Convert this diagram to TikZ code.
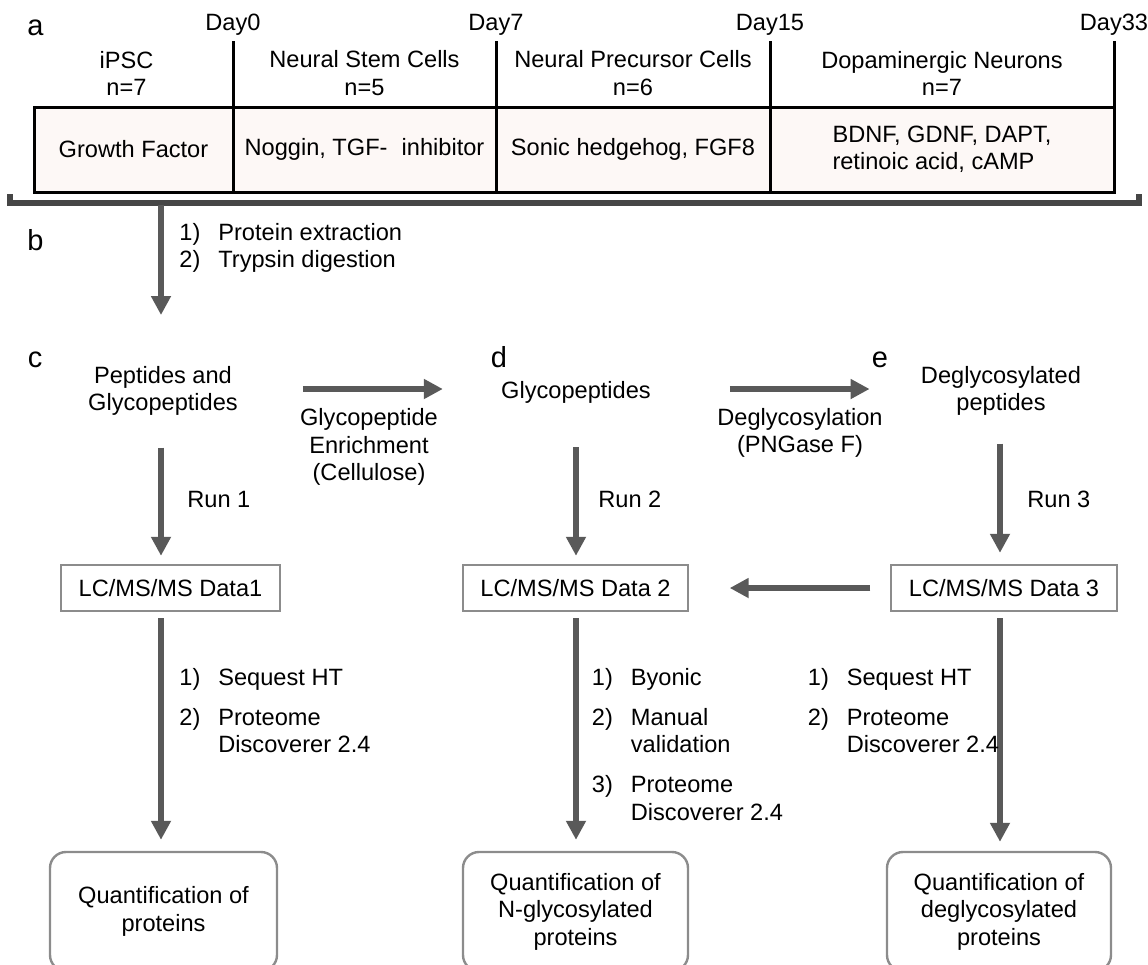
\documentclass[tikz,border=0pt]{standalone}
\usepackage{fontspec}
\setmainfont{Liberation Sans}
\usepackage{tikz}
\usetikzlibrary{arrows.meta,positioning}
\definecolor{cellpink}{RGB}{253,248,246}
\definecolor{flowgray}{RGB}{89,89,89}
\definecolor{bracegray}{RGB}{70,70,70}
\definecolor{framegray}{RGB}{140,140,140}

\begin{document}
\begin{tikzpicture}[
        x=0.5pt, y=-0.5pt,
        font=\fontsize{11.8}{13.75}\selectfont,
        cell/.style={rectangle, draw=black, line width=1.5pt, fill=cellpink,
            minimum width=#1, minimum height=42.5pt,
            inner sep=0pt, outer sep=0pt, align=left},
        label/.style={inner sep=0pt, align=center},
        panel/.style={font=\fontsize{14.5}{16}\selectfont, inner sep=0pt, anchor=base west},
        databox/.style={rectangle, draw=framegray, line width=1.2pt,
            minimum width=#1, minimum height=23pt, inner sep=0pt},
        resultbox/.style={rectangle, rounded corners=8pt, draw=framegray, line width=1.2pt,
            minimum width=#1, minimum height=59.5pt, inner sep=0pt, align=center},
        flow/.style={draw=flowgray, line width=3.3pt, -{Triangle[width=9.5pt,length=9.5pt]}}
    ]
        \useasboundingbox (0,0) rectangle (1148,965);
        \clip (0,0) rectangle (1148,965);

        % a: differentiation timeline
        \node[cell=99.5pt] (cellA) at (133.5,149.5) {Growth Factor};
        \node[cell=131.5pt, right=0pt of cellA] (cellB) {Noggin, TGF-\hspace{0.6em}inhibitor};
        \node[cell=137pt, right=0pt of cellB] (cellC) {Sonic hedgehog, FGF8};
        \node[cell=172pt, right=0pt of cellC] (cellD) {BDNF, GDNF, DAPT,\\retinoic acid, cAMP};
        \node[label, above=5.5pt of cellA, xshift=-3.5pt] (hA) {iPSC\\n=7};
        \node[label, above=5.5pt of cellB] (hB) {Neural Stem Cells\\n=5};
        \node[label, above=5.5pt of cellC] (hC) {Neural Precursor Cells\\n=6};
        \node[label, above=5.5pt of cellD] (hD) {Dopaminergic Neurons\\n=7};
        \foreach \c/\d in {cellA/Day0, cellB/Day7, cellC/Day15, cellD/Day33} {
            \draw[line width=1.5pt] (\c.north east) -- ++(0,-66) coordinate (top-\d);
            \node[anchor=base, inner sep=0pt] (day-\d) at ([yshift=5.5pt]top-\d) {\d};
        }
        \draw[bracegray, line width=3pt] (10,194) |- (1139,202.5) -- (1139,194);

        % b: sample preparation
        \coordinate (split) at (161,205);
        \coordinate (pep-in) at (161,315);
        \draw[flow] (split) -- (pep-in);
        \node[anchor=base west, inner sep=0pt] (prep) at (179,240)
            {\begin{tabular}[t]{@{}l@{\hspace{9pt}}l@{}}1) & Protein extraction\\2) & Trypsin digestion\end{tabular}};

        \node[panel] (pa) at (27,35) {a};
        \node[panel] (pb) at (27,250) {b};
        \node[panel] (pc) at (27.5,367) {c};
        \node[panel] (pd) at (490.5,367) {d};
        \node[panel] (pe) at (871.5,367) {e};

        % c, d, e: three runs
        \node[label] (pep) at (163,391) {Peptides and\\Glycopeptides};
        \node[label, anchor=base] (gly) at (576,398) {Glycopeptides};
        \node[label] (deg) at (1001,391) {Deglycosylated\\peptides};

        \node[databox=109.5pt] (lc1) at (170.5,588) {LC/MS/MS Data1};
        \node[databox=112.5pt] (lc2) at (575.5,588) {LC/MS/MS Data 2};
        \node[databox=113pt] (lc3) at (1004,588) {LC/MS/MS Data 3};

        \node[resultbox=113.5pt] (q1) at (163.5,911.5) {Quantification of\\proteins};
        \node[resultbox=112.5pt] (q2) at (575.5,911.5) {Quantification of\\N-glycosylated\\proteins};
        \node[resultbox=112pt] (q3) at (999,911.5) {Quantification of\\deglycosylated\\proteins};

        \coordinate (row) at (0,389);
        \coordinate (col1) at (161,0);
        \coordinate (col2) at (576,0);
        \coordinate (col3) at (1000,0);

        \draw[flow, shorten <=32.3pt, shorten >=29pt] (pep.east |- row) -- (gly.west |- row);
        \draw[flow, shorten <=39.3pt, shorten >=25.5pt] (gly.east |- row) -- (deg.west |- row);
        \node[label] (enrich) at (369,447) {Glycopeptide\\Enrichment\\(Cellulose)};
        \node[label] (pngase) at (800,433) {Deglycosylation\\(PNGase F)};

        \draw[flow, shorten <=15.75pt, shorten >=4pt] (pep.south -| col1) -- (lc1.north -| col1);
        \draw[flow, shorten <=22pt, shorten >=4pt] (gly.south -| col2) -- (lc2.north -| col2);
        \draw[flow, shorten <=13.75pt, shorten >=5.5pt] (deg.south -| col3) -- (lc3.north -| col3);
        \node[anchor=base west, inner sep=0pt] (run1) at (187,507) {Run 1};
        \node[anchor=base west, inner sep=0pt] (run2) at (598,507) {Run 2};
        \node[anchor=base west, inner sep=0pt] (run3) at (1027,507) {Run 3};

        \draw[flow, shorten <=9.75pt, shorten >=20.25pt] (lc3.west) -- (lc2.east);

        \draw[flow, shorten <=3pt, shorten >=5.5pt] (lc1.south -| col1) -- (q1.north -| col1);
        \draw[flow, shorten <=3pt, shorten >=5.5pt] (lc2.south -| col2) -- (q2.north -| col2);
        \draw[flow, shorten <=3pt, shorten >=4.5pt] (lc3.south -| col3) -- (q3.north -| col3);

        \node[anchor=base west, inner sep=0pt] (sw1) at (179,685)
            {\begin{tabular}[t]{@{}l@{\hspace{9pt}}l@{}}1) & Sequest HT\\[6.25pt]2) & Proteome\\ & Discoverer 2.4\end{tabular}};
        \node[anchor=base west, inner sep=0pt] (sw2) at (591.5,685)
            {\begin{tabular}[t]{@{}l@{\hspace{9pt}}l@{}}1) & Byonic\\[6.25pt]2) & Manual\\ & validation\\[6.25pt]3) & Proteome\\ & Discoverer 2.4\end{tabular}};
        \node[anchor=base west, inner sep=0pt] (sw3) at (807.5,685)
            {\begin{tabular}[t]{@{}l@{\hspace{9pt}}l@{}}1) & Sequest HT\\[6.25pt]2) & Proteome\\ & Discoverer 2.4\end{tabular}};
    \end{tikzpicture}
\end{document}
